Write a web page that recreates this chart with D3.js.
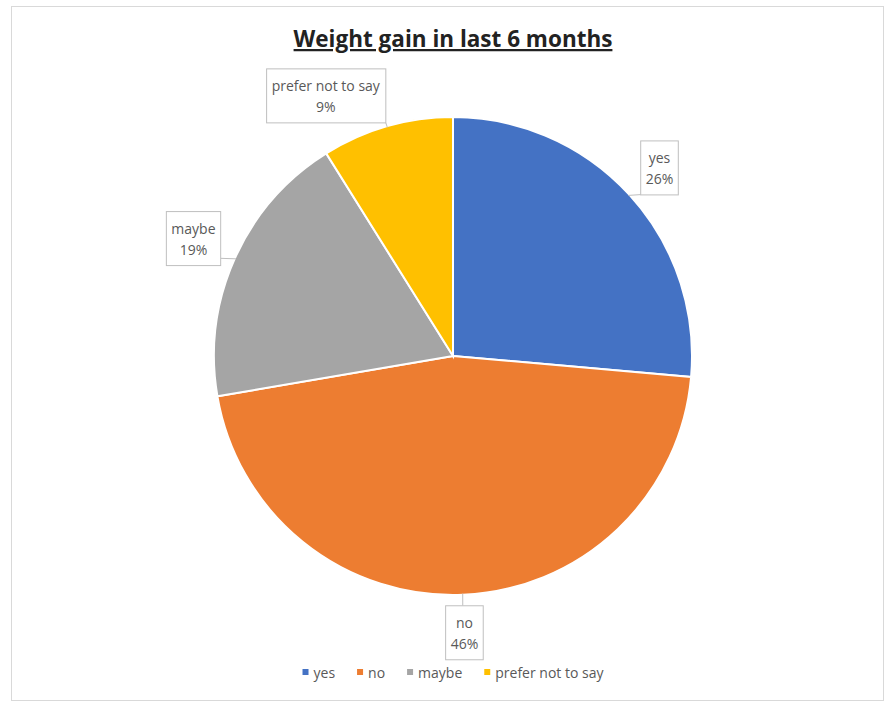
<!DOCTYPE html>
<html>
<head>
<meta charset="utf-8">
<script src="https://cdn.jsdelivr.net/npm/d3@7"></script>
<style>
  body { margin: 0; background: #fff; }
  svg { font-family: "Open Sans", "Noto Sans", sans-serif; }
</style>
</head>
<body>
<svg id="drawing_region"></svg>
<script>
const categories = ["yes", "no", "maybe", "prefer not to say"];
const percents = [26.4, 45.9, 18.8, 8.9];
const colors = ["#4472C4", "#ED7D31", "#A5A5A5", "#FFC000"];

const config = {
    parent: '#drawing_region',
    width: 888,
    height: 704,
    title: "Weight gain in last 6 months",
    cx: 453,
    cy: 356,
    radius: 239,
    labelRadius: 280,
    // Excel pushes the small slice's label a bit to the left
    labelNudge: [[0, 0], [0, -4], [-4, -4], [-50, 8]],
};

const data = categories.map((c, i) => ({ label: c, value: percents[i], color: colors[i] }));

const svg = d3.select(config.parent)
    .attr('width', config.width)
    .attr('height', config.height);

// chart frame
svg.append('rect')
    .attr('x', 11.5).attr('y', 6.5)
    .attr('width', 872).attr('height', 694)
    .attr('fill', '#fff')
    .attr('stroke', '#d9d9d9');

// title
svg.append('text')
    .attr('x', config.cx)
    .attr('y', 47)
    .attr('text-anchor', 'middle')
    .style('font-size', '22.5px')
    .style('font-weight', 'bold')
    .style('fill', '#222')
    .style('text-decoration', 'underline')
    .text(config.title);

const pie = d3.pie().sort(null).value(d => d.value);
const arcs = pie(data);

const arc = d3.arc().innerRadius(0).outerRadius(config.radius);
const edgeArc = d3.arc().innerRadius(config.radius).outerRadius(config.radius);
const labelArc = d3.arc().innerRadius(config.labelRadius).outerRadius(config.labelRadius);

const g = svg.append('g')
    .attr('transform', `translate(${config.cx}, ${config.cy})`);

g.selectAll('path')
    .data(arcs)
    .join('path')
    .attr('d', arc)
    .attr('fill', d => d.data.color)
    .attr('stroke', 'white')
    .style('stroke-width', '2px');

// callout labels
const labels = g.selectAll('g.label')
    .data(arcs)
    .join('g')
    .attr('class', 'label');

labels.each(function(d, i) {
    const sel = d3.select(this);
    const c = labelArc.centroid(d);
    const x = c[0] + config.labelNudge[i][0];
    const y = c[1] + config.labelNudge[i][1];

    const t = sel.append('text')
        .attr('text-anchor', 'middle')
        .style('font-size', '14px')
        .style('fill', '#595959');
    t.append('tspan').attr('x', x).attr('y', y - 4).text(d.data.label);
    t.append('tspan').attr('x', x).attr('y', y + 17).text(Math.round(d.data.value) + '%');

    const bb = t.node().getBBox();
    const padX = 5, padY = 7;
    const bx = bb.x - padX, by = bb.y - padY;
    const bw = bb.width + 2 * padX, bh = bb.height + 2 * padY;

    // leader line from box edge to the pie edge
    const e = edgeArc.centroid(d);
    const px = Math.max(bx, Math.min(bx + bw, e[0]));
    const py = Math.max(by, Math.min(by + bh, e[1]));
    sel.insert('line', 'text')
        .attr('x1', px).attr('y1', py)
        .attr('x2', e[0] * 0.995).attr('y2', e[1] * 0.995)
        .attr('stroke', '#bfbfbf')
        .attr('stroke-width', 1);

    sel.insert('rect', 'text')
        .attr('x', bx).attr('y', by)
        .attr('width', bw).attr('height', bh)
        .attr('fill', '#fff')
        .attr('stroke', '#bfbfbf');
});

// legend
const legend = svg.append('g');
let lx = 0;
data.forEach(d => {
    const item = legend.append('g').attr('transform', `translate(${lx}, 0)`);
    item.append('rect')
        .attr('x', 0).attr('y', -4)
        .attr('width', 6).attr('height', 6)
        .attr('fill', d.color);
    const txt = item.append('text')
        .attr('x', 11).attr('y', 5)
        .style('font-size', '14px')
        .style('fill', '#595959')
        .text(d.label);
    lx += 11 + txt.node().getComputedTextLength() + 22;
});
const lw = lx - 22;
legend.attr('transform', `translate(${config.cx - lw / 2}, 673)`);
</script>
</body>
</html>
